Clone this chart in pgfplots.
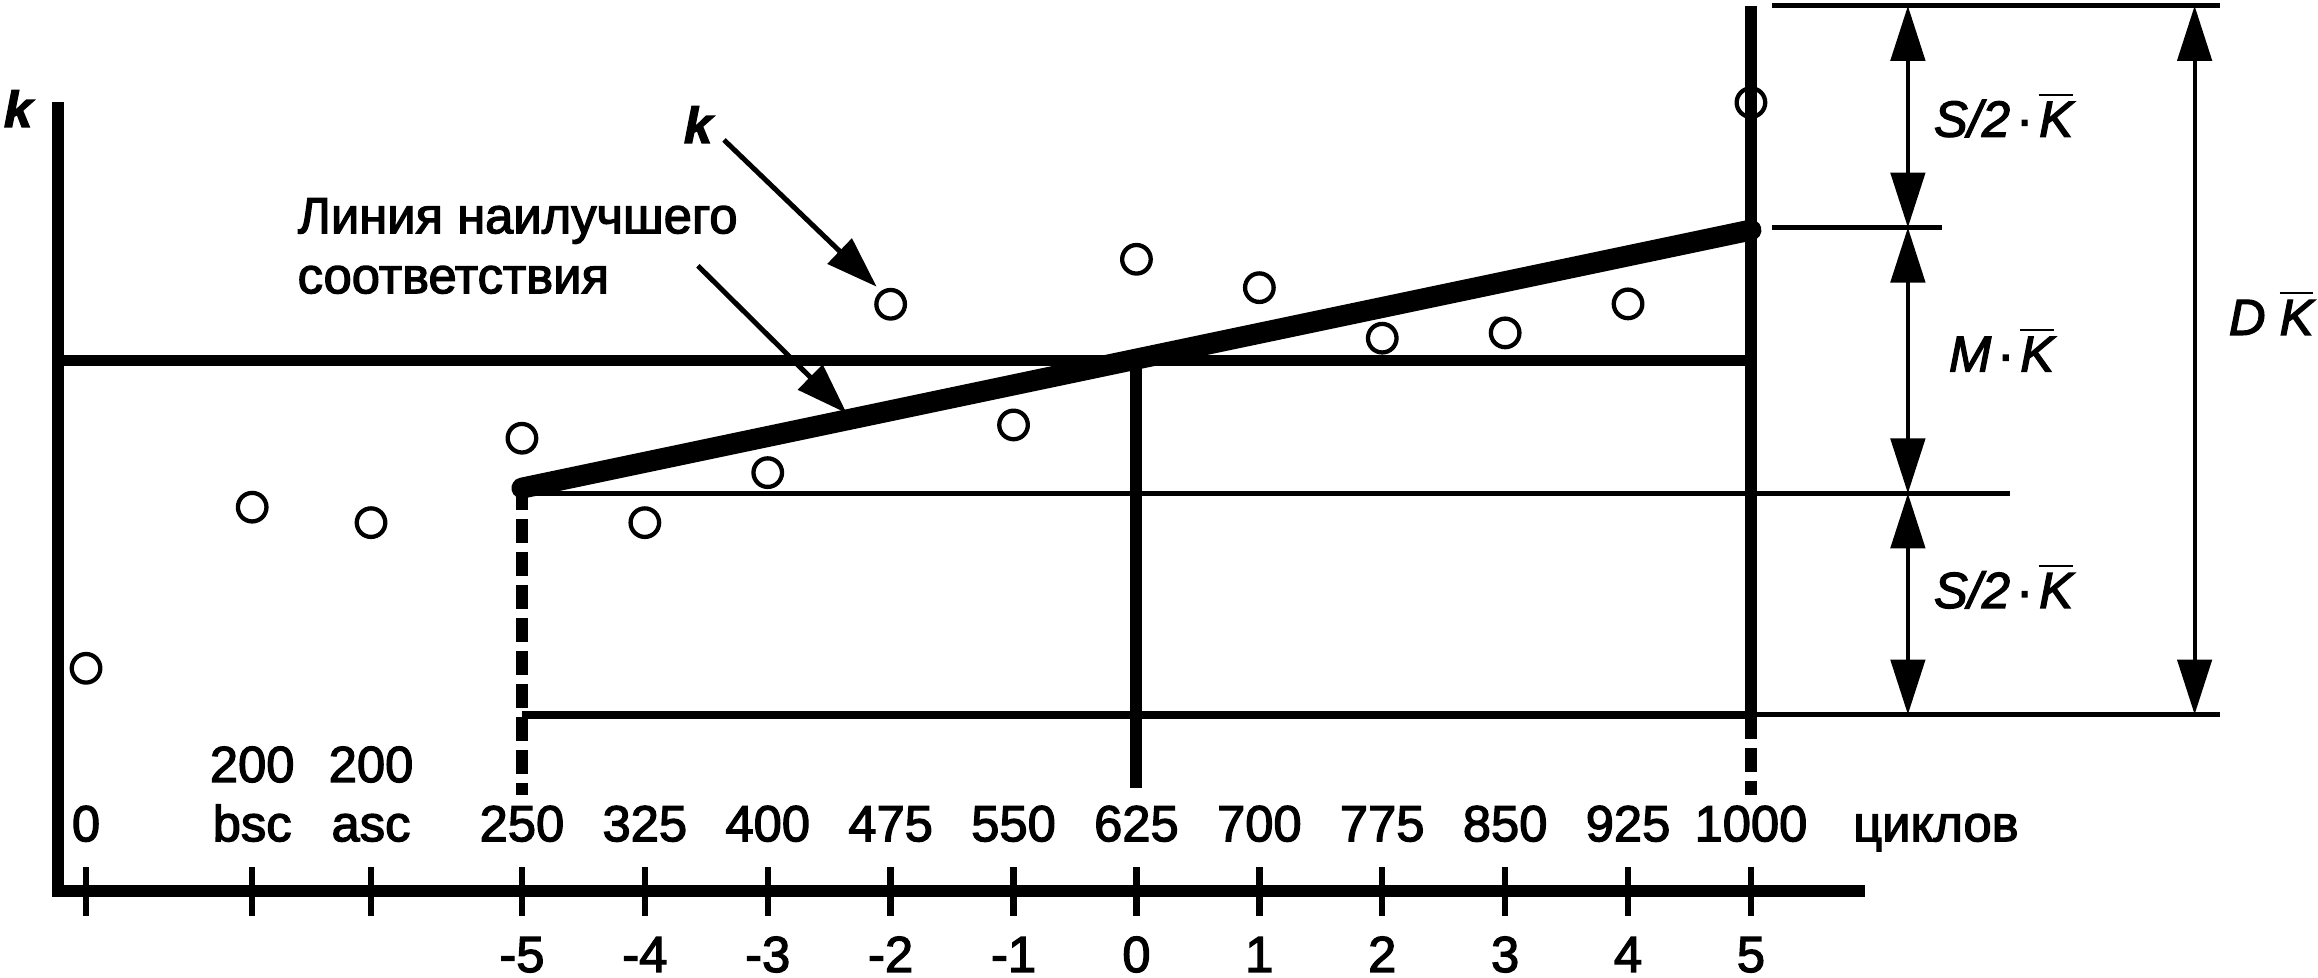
\documentclass[border=0pt]{standalone}
\usepackage{fontspec}
\setmainfont{Liberation Sans}[FakeBold=2.5]
\usepackage{pgfplots}
\pgfplotsset{compat=1.18}
\usetikzlibrary{arrows.meta}
\newcommand\lbl{\fontsize{10.1pt}{12pt}\selectfont}
\newcommand\Kbar{$\overline{\mbox{\itshape K}}$}
\newcommand\mdot{\hspace{0.12em}·\hspace{0.12em}}
\begin{document}
\begin{tikzpicture}
\begin{axis}[
  x=8.603mm, y=8.603mm,
  xmin=-8.777, xmax=5.88, ymin=0, ymax=6.37,
  axis x line=bottom, axis y line=left,
  axis line style={line width=0.84mm, line cap=rect, -},
  every outer x axis line/.append style={-},
  every outer y axis line/.append style={-},
  xtick={-8.547,-7.195,-6.228,-5,-4,-3,-2,-1,0,1,2,3,4,5},
  xticklabels={},
  ytick=\empty,
  tick align=center,
  major tick length=3.43mm,
  tick style={line width=0.45mm, black},
  clip=false,
  nodes={font=\lbl, inner sep=0pt},
]
% reference lines
\addplot[line width=0.77mm] coordinates {(-8.777,4.319) (5,4.319)};
\addplot[line width=0.35mm] coordinates {(-5,3.237) (7.105,3.237)};
\addplot[line width=0.56mm] coordinates {(-5,1.438) (5,1.438)};
\addplot[line width=0.35mm] coordinates {(5,1.438) (8.814,1.438)};
\addplot[line width=0.35mm] coordinates {(5.17,7.204) (8.814,7.204)};
\addplot[line width=0.30mm] coordinates {(5.17,5.40) (6.554,5.40)};
\addplot[line width=0.84mm] coordinates {(5,7.204) (5,1.438)};
\addplot[line width=0.84mm, dash pattern=on 1.68mm off 0.63mm] coordinates {(5,1.438) (5,0.787)};
\addplot[line width=0.84mm] coordinates {(0,4.319) (0,0.84)};
\addplot[line width=0.84mm, dash pattern=on 1.68mm off 0.63mm] coordinates {(-5,3.30) (-5,0.787)};
% best fit line
\addplot[line width=1.47mm, line cap=round] coordinates {(-5,3.28) (5,5.38)};
% data points
\addplot[only marks, mark=o, mark size=1.0mm, mark options={line width=0.3mm}] coordinates {
(-8.547,1.814) (-7.195,3.125) (-6.228,2.999) (-5,3.686) (-4,2.999) (-3,3.406)
(-2,4.776) (-1,3.794) (0,5.142) (1,4.911) (2,4.500) (3,4.543) (4,4.779) (5,6.417)};
% dimension arrows
\draw[line width=0.28mm, {Triangle[length=3.85mm,width=2.4mm]}-{Triangle[length=3.85mm,width=2.4mm]}] (axis cs:6.277,7.204) -- (axis cs:6.277,5.40);
\draw[line width=0.28mm, {Triangle[length=3.85mm,width=2.4mm]}-{Triangle[length=3.85mm,width=2.4mm]}] (axis cs:6.277,5.40) -- (axis cs:6.277,3.237);
\draw[line width=0.28mm, {Triangle[length=3.85mm,width=2.4mm]}-{Triangle[length=3.85mm,width=2.4mm]}] (axis cs:6.277,3.237) -- (axis cs:6.277,1.438);
\draw[line width=0.28mm, {Triangle[length=3.85mm,width=2.4mm]}-{Triangle[length=3.85mm,width=2.4mm]}] (axis cs:8.610,7.204) -- (axis cs:8.610,1.438);
\node[anchor=base west] at (axis cs:6.481,6.140) {\textit{S/2}\mdot\Kbar};
\node[anchor=base west] at (axis cs:6.603,4.228) {\textit{M}\mdot\Kbar};
\node[anchor=base west] at (axis cs:6.481,2.305) {\textit{S/2}\mdot\Kbar};
\node[anchor=base west] at (axis cs:8.881,4.527) {\textit{D} \Kbar};
% annotations
\node[anchor=base west] at (axis cs:-9.223,6.219) {\bfseries\itshape k};
\node[anchor=base west] at (axis cs:-3.69,6.089) {\bfseries\itshape k};
\node[anchor=base west] at (axis cs:-6.833,5.354) {Линия наилучшего};
\node[anchor=base west] at (axis cs:-6.833,4.866) {соответствия};
\draw[line width=0.35mm, -{Triangle[length=3.6mm,width=2.4mm]}] (axis cs:-3.356,6.113) -- (axis cs:-2.114,4.919);
\draw[line width=0.35mm, -{Triangle[length=3.6mm,width=2.4mm]}] (axis cs:-3.568,5.089) -- (axis cs:-2.358,3.889);
% upper tick labels (cycles)
\node[anchor=base] at (axis cs:-8.547,0.407) {0};
\node[anchor=base] at (axis cs:-7.195,0.889) {200};
\node[anchor=base] at (axis cs:-7.195,0.407) {bsc};
\node[anchor=base] at (axis cs:-6.228,0.889) {200};
\node[anchor=base] at (axis cs:-6.228,0.407) {asc};
\node[anchor=base] at (axis cs:-5,0.407) {250};
\node[anchor=base] at (axis cs:-4,0.407) {325};
\node[anchor=base] at (axis cs:-3,0.407) {400};
\node[anchor=base] at (axis cs:-2,0.407) {475};
\node[anchor=base] at (axis cs:-1,0.407) {550};
\node[anchor=base] at (axis cs:0,0.407) {625};
\node[anchor=base] at (axis cs:1,0.407) {700};
\node[anchor=base] at (axis cs:2,0.407) {775};
\node[anchor=base] at (axis cs:3,0.407) {850};
\node[anchor=base] at (axis cs:4,0.407) {925};
\node[anchor=base] at (axis cs:5,0.407) {1000};
\node[anchor=base] at (axis cs:6.505,0.407) {циклов};
% lower tick labels (coded units)
\node[anchor=base] at (axis cs:-5,-0.657) {-5};
\node[anchor=base] at (axis cs:-4,-0.657) {-4};
\node[anchor=base] at (axis cs:-3,-0.657) {-3};
\node[anchor=base] at (axis cs:-2,-0.657) {-2};
\node[anchor=base] at (axis cs:-1,-0.657) {-1};
\node[anchor=base] at (axis cs:0,-0.657) {0};
\node[anchor=base] at (axis cs:1,-0.657) {1};
\node[anchor=base] at (axis cs:2,-0.657) {2};
\node[anchor=base] at (axis cs:3,-0.657) {3};
\node[anchor=base] at (axis cs:4,-0.657) {4};
\node[anchor=base] at (axis cs:5,-0.657) {5};
\coordinate (BL) at (axis cs:-9.247,-0.7054);
\coordinate (TR) at (axis cs:9.614,7.252);
\end{axis}
\pgfresetboundingbox
\path (BL) rectangle (TR);
\end{tikzpicture}
\end{document}
